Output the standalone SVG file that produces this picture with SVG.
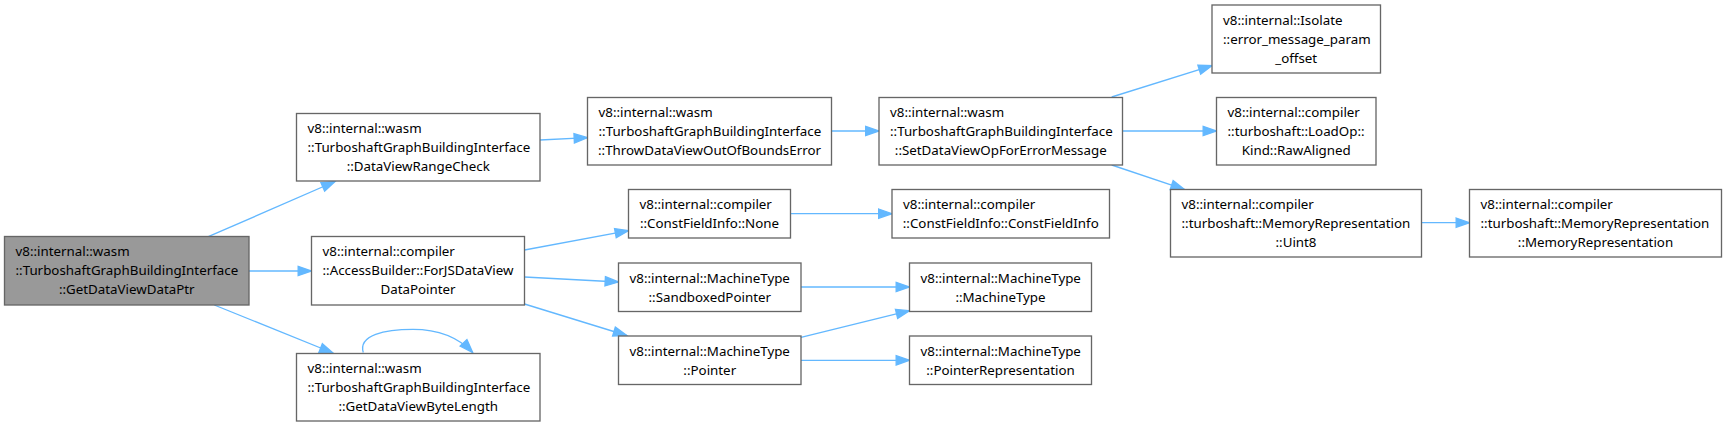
<svg xmlns="http://www.w3.org/2000/svg" width="1727" height="426" viewBox="0 0 1727 426">
<defs>
<style>
.nd rect{fill:#ffffff;stroke:#666666;stroke-width:1.33}
.nd.main rect{fill:#999999}
.nd text{font-family:"Noto Sans","DejaVu Sans",sans-serif;font-size:13.33px;fill:#000000}
.nd text.c{text-anchor:middle}
.edges path{fill:none;stroke:#63b8ff;stroke-width:1.33;marker-end:url(#ah)}
</style>
<marker id="ah" markerUnits="userSpaceOnUse" markerWidth="16" markerHeight="12" refX="13.33" refY="5" orient="auto" overflow="visible">
<path d="M0,0.33 L13.33,5 L0,9.67 z" fill="#63b8ff" stroke="#63b8ff" stroke-width="1.33"/>
</marker>
</defs>
<rect width="1727" height="426" fill="#ffffff"/>
<g class="edges">
<path d="M208.3,236.7 L335,181.5"/>
<path d="M249,271 L311.5,271"/>
<path d="M214.3,305 L333,353"/>
<path d="M363.3,352.5 C358,335 385,329.3 413,329.3 C438,329.3 458,337 472.7,352.5"/>
<path d="M540,140 L587.5,137.7"/>
<path d="M831.5,131 L879,131"/>
<path d="M524.5,250 L628.5,230.7"/>
<path d="M524.5,277 L618.5,282"/>
<path d="M524.5,304 L626.7,335.5"/>
<path d="M790.5,213.7 L892,213.7"/>
<path d="M801,287 L909.5,287"/>
<path d="M801,337.3 L909.5,310.7"/>
<path d="M801,360.3 L909.5,360.3"/>
<path d="M1111.7,97 L1212,65.7"/>
<path d="M1122.7,131 L1216.5,131"/>
<path d="M1111.7,165 L1184.3,189.3"/>
<path d="M1421.7,222.7 L1469.5,222.7"/>
</g>
<g id="node1" class="nd main">
<rect x="4.5" y="236.5" width="244.5" height="68.5"/>
<text x="15.5" y="256">v8::internal::wasm</text>
<text x="15.5" y="275">::TurboshaftGraphBuildingInterface</text>
<text class="c" x="126.75" y="294">::GetDataViewDataPtr</text>
</g>
<g id="node2" class="nd">
<rect x="296.5" y="113.5" width="243.5" height="67.5"/>
<text x="307.5" y="133">v8::internal::wasm</text>
<text x="307.5" y="152">::TurboshaftGraphBuildingInterface</text>
<text class="c" x="418.25" y="171">::DataViewRangeCheck</text>
</g>
<g id="node3" class="nd">
<rect x="311.5" y="236.5" width="213" height="68.5"/>
<text x="322.5" y="256">v8::internal::compiler</text>
<text x="322.5" y="275">::AccessBuilder::ForJSDataView</text>
<text class="c" x="418" y="294">DataPointer</text>
</g>
<g id="node4" class="nd">
<rect x="296.5" y="353.5" width="243.5" height="67.5"/>
<text x="307.5" y="373">v8::internal::wasm</text>
<text x="307.5" y="392">::TurboshaftGraphBuildingInterface</text>
<text class="c" x="418.25" y="411">::GetDataViewByteLength</text>
</g>
<g id="node5" class="nd">
<rect x="587.5" y="97.5" width="244" height="67.5"/>
<text x="598.5" y="117">v8::internal::wasm</text>
<text x="598.5" y="136">::TurboshaftGraphBuildingInterface</text>
<text class="c" x="709.5" y="155">::ThrowDataViewOutOfBoundsError</text>
</g>
<g id="node6" class="nd">
<rect x="879" y="97.5" width="243.5" height="67.5"/>
<text x="890" y="117">v8::internal::wasm</text>
<text x="890" y="136">::TurboshaftGraphBuildingInterface</text>
<text class="c" x="1000.75" y="155">::SetDataViewOpForErrorMessage</text>
</g>
<g id="node7" class="nd">
<rect x="628.5" y="189.5" width="162" height="48.5"/>
<text x="639.5" y="209">v8::internal::compiler</text>
<text class="c" x="709.5" y="228">::ConstFieldInfo::None</text>
</g>
<g id="node8" class="nd">
<rect x="892" y="189.5" width="217.5" height="48.5"/>
<text x="903" y="209">v8::internal::compiler</text>
<text class="c" x="1000.75" y="228">::ConstFieldInfo::ConstFieldInfo</text>
</g>
<g id="node9" class="nd">
<rect x="618.5" y="263" width="182.5" height="48.5"/>
<text x="629.5" y="282.5">v8::internal::MachineType</text>
<text class="c" x="709.75" y="301.5">::SandboxedPointer</text>
</g>
<g id="node10" class="nd">
<rect x="909.5" y="263" width="182" height="48.5"/>
<text x="920.5" y="282.5">v8::internal::MachineType</text>
<text class="c" x="1000.5" y="301.5">::MachineType</text>
</g>
<g id="node11" class="nd">
<rect x="618.5" y="336" width="182.5" height="48.5"/>
<text x="629.5" y="355.5">v8::internal::MachineType</text>
<text class="c" x="709.75" y="374.5">::Pointer</text>
</g>
<g id="node12" class="nd">
<rect x="909.5" y="336" width="182" height="48.5"/>
<text x="920.5" y="355.5">v8::internal::MachineType</text>
<text class="c" x="1000.5" y="374.5">::PointerRepresentation</text>
</g>
<g id="node13" class="nd">
<rect x="1212" y="5" width="168.5" height="68"/>
<text x="1223" y="24.5">v8::internal::Isolate</text>
<text x="1223" y="43.5">::error_message_param</text>
<text class="c" x="1296.25" y="62.5">_offset</text>
</g>
<g id="node14" class="nd">
<rect x="1216.5" y="97.5" width="159.5" height="67.5"/>
<text x="1227.5" y="117">v8::internal::compiler</text>
<text x="1227.5" y="136">::turboshaft::LoadOp::</text>
<text class="c" x="1296.25" y="155">Kind::RawAligned</text>
</g>
<g id="node15" class="nd">
<rect x="1170.5" y="189.5" width="251" height="67.5"/>
<text x="1181.5" y="209">v8::internal::compiler</text>
<text x="1181.5" y="228">::turboshaft::MemoryRepresentation</text>
<text class="c" x="1296" y="247">::Uint8</text>
</g>
<g id="node16" class="nd">
<rect x="1469.5" y="189.5" width="252" height="67.5"/>
<text x="1480.5" y="209">v8::internal::compiler</text>
<text x="1480.5" y="228">::turboshaft::MemoryRepresentation</text>
<text class="c" x="1595.5" y="247">::MemoryRepresentation</text>
</g>
</svg>
